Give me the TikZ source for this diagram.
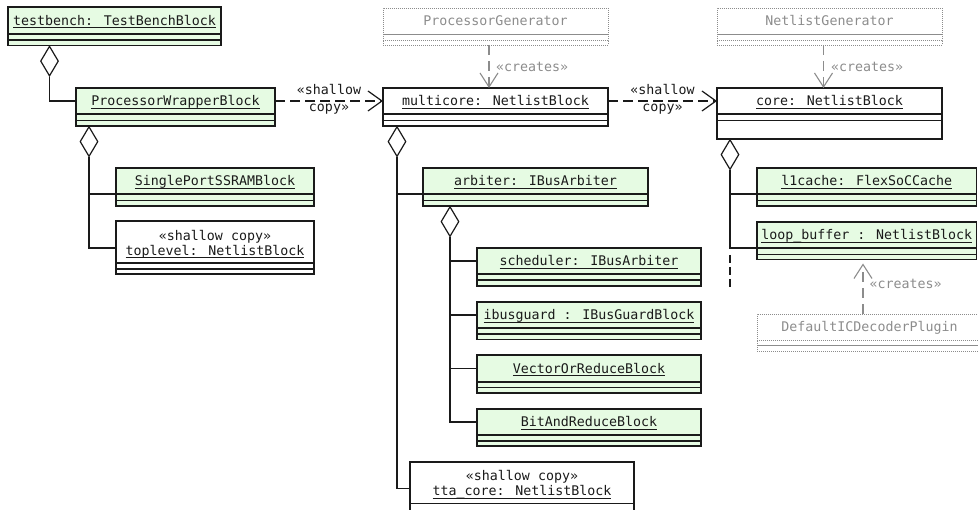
\documentclass[tikz,border=0pt]{standalone}
\usepackage{fontspec}
\usetikzlibrary{arrows.meta,shapes.geometric}
\newfontfamily\umlfont{DejaVu Sans Mono}
\definecolor{objfill}{HTML}{E6FBE3}
\definecolor{gengray}{HTML}{8C8C8C}
\definecolor{ink}{HTML}{1A1A1A}

% underlined object name with a fixed underline offset
\newcommand\uname[1]{\setbox0\hbox{#1}\rlap{\rule[-3pt]{\wd0}{0.9pt}}\box0}

% object box: name compartment (#1) plus two lower compartments (#1-a, #1-b)
% #2 left, #3 top, #4 right, #5 end of name part, #6 end of part a, #7 bottom, #8 style
\newcommand\objbox[8]{%
  \node[#8, anchor=north west, minimum width={(#4-#2)*1pt}, minimum height={(#5-#3)*1pt}] (#1) at (#2,#3) {};
  \node[#8, anchor=north west, minimum width={(#4-#2)*1pt}, minimum height={(#6-#5)*1pt}] (#1-a) at (#2,#5) {};
  \node[#8, anchor=north west, minimum width={(#4-#2)*1pt}, minimum height={(#7-#6)*1pt}] (#1-b) at (#2,#6) {};
}

\tikzset{
  part/.style={draw=ink, line width=1.2pt, rectangle, inner sep=0pt, outer sep=0pt},
  objgreen/.style={part, fill=objfill},
  objwhite/.style={part, fill=white},
  genpart/.style={draw=gengray, line width=0.9pt, dash pattern=on 0.8pt off 1.2pt, rectangle, inner sep=0pt, outer sep=0pt},
  nametext/.style={font=\umlfont\fontsize{13.3}{16}\selectfont, text=ink, inner sep=0pt, text height=9.2pt, text depth=0pt},
  gentext/.style={nametext, text=gengray},
  tagtext/.style={font=\umlfont\fontsize{13.3}{16}\selectfont, text=ink, inner sep=0pt},
  conn/.style={draw=ink, line width=1.2pt},
  agg/.style={diamond, draw=ink, line width=1.2pt, fill=white, minimum width=18pt, minimum height=30pt, inner sep=0pt, anchor=north},
  dep/.style={conn, dash pattern=on 10pt off 5pt, -{Straight Barb[length=14pt, width=20pt]}},
  creates/.style={draw=gengray, line width=1.1pt, dash pattern=on 10pt off 6pt, -{Straight Barb[length=14pt, width=18pt]}},
}

\begin{document}
\begin{tikzpicture}[x=1pt, y=-1pt]
\useasboundingbox (0,0) rectangle (978,510);
\clip (0,0) rectangle (978,510);

% generator boxes
\objbox{pg}{383}{8}{608}{34}{40}{45}{genpart}
\objbox{ng}{717}{8}{942}{34}{40}{45}{genpart}
\objbox{dic}{757}{314}{982}{340}{345}{351}{genpart}
\node[gentext] (pg-t) at (pg.center) {ProcessorGenerator};
\node[gentext] (ng-t) at (ng.center) {NetlistGenerator};
\node[gentext] (dic-t) at (dic.center) {DefaultICDecoderPlugin};

% object boxes
\objbox{tb}{8}{7}{221}{34}{40}{45.5}{objgreen}
\objbox{pw}{76}{88}{275}{114}{120.5}{126}{objgreen}
\objbox{sp}{116}{168}{314}{194}{200.5}{206}{objgreen}
\objbox{tl}{116}{221}{314}{263}{269}{274}{objwhite}
\objbox{mc}{383}{88}{608}{114}{120.5}{126}{objwhite}
\objbox{core}{717}{88}{942}{114}{120.5}{139}{objwhite}
\objbox{arb}{423}{168}{648}{194}{200.5}{206}{objgreen}
\objbox{sch}{477}{248}{701}{274}{280}{286}{objgreen}
\objbox{ibg}{477}{302}{701}{328}{334}{339.5}{objgreen}
\objbox{vor}{477}{355}{701}{382}{387.5}{393}{objgreen}
\objbox{bar}{477}{409}{701}{435}{441}{446}{objgreen}
\objbox{tta}{410}{462}{634}{503.5}{513}{525}{objwhite}
\objbox{l1}{757}{168}{976.5}{194}{200.5}{206}{objgreen}
\objbox{lb}{757}{222}{976.5}{248}{254.5}{259.5}{objgreen}

\node[nametext] (tb-t) at (tb.center) {\uname{testbench: TestBenchBlock}};
\node[nametext] (pw-t) at (pw.center) {\uname{ProcessorWrapperBlock}};
\node[nametext] (sp-t) at (sp.center) {\uname{SinglePortSSRAMBlock}};
\node[nametext] (tl-s) at ([yshift=6pt]tl.center) {«shallow copy»};
\node[nametext] (tl-t) at ([yshift=-8.5pt]tl.center) {\uname{toplevel: NetlistBlock}};
\node[nametext] (mc-t) at (mc.center) {\uname{multicore: NetlistBlock}};
\node[nametext] (core-t) at (core.center) {\uname{core: NetlistBlock}};
\node[nametext] (arb-t) at (arb.center) {\uname{arbiter: IBusArbiter}};
\node[nametext] (sch-t) at (sch.center) {\uname{scheduler: IBusArbiter}};
\node[nametext] (ibg-t) at (ibg.center) {\uname{ibusguard : IBusGuardBlock}};
\node[nametext] (vor-t) at (vor.center) {\uname{VectorOrReduceBlock}};
\node[nametext] (bar-t) at (bar.center) {\uname{BitAndReduceBlock}};
\node[nametext] (tta-s) at ([yshift=6.5pt]tta.center) {«shallow copy»};
\node[nametext] (tta-t) at ([yshift=-8.3pt]tta.center) {\uname{tta\_core: NetlistBlock}};
\node[nametext] (l1-t) at (l1.center) {\uname{l1cache: FlexSoCCache}};
\node[nametext] (lb-t) at (lb.center) {\uname{loop\_buffer : NetlistBlock}};

% aggregation diamonds
\node[agg] (d-tb) at (49.5,45.5) {};
\node[agg] (d-pw) at (89,126) {};
\node[agg] (d-mc) at (397,126) {};
\node[agg] (d-arb) at (450,206) {};
\node[agg] (d-core) at (730,139) {};

% containment tree
\draw[conn] (d-tb.south) |- (pw.west);
\draw[conn] (d-pw.south) |- (sp.south west);
\draw[conn] (d-pw.south) |- ([yshift=-6pt]tl.west);
\draw[conn] (d-mc.south) |- (arb.south west);
\draw[conn] (d-mc.south) |- ([yshift=-5.5pt]tta.west);
\draw[conn] (d-arb.south) |- (sch.west);
\draw[conn] (d-arb.south) |- (ibg.west);
\draw[conn] (d-arb.south) |- (vor.west);
\draw[conn] (d-arb.south) |- (bar.west);
\draw[conn] (d-core.south) |- (l1.south west);
\draw[conn] (d-core.south) |- (lb.south west);
\coordinate (core-dash) at (730,255);
\coordinate (core-tail) at (730,288);
\draw[conn, dash pattern=on 8pt off 4pt] (core-dash) -- (core-tail);

% shallow copy dependencies
\draw[dep] (pw.east) -- (mc.west)
  node[midway, tagtext, anchor=base, yshift=6pt] (sc1-a) {«shallow}
  node[midway, tagtext, anchor=base, yshift=-10.5pt] (sc1-b) {copy»};
\draw[dep] (mc.east) -- (core.west)
  node[midway, tagtext, anchor=base, yshift=6pt] (sc2-a) {«shallow}
  node[midway, tagtext, anchor=base, yshift=-10.5pt] (sc2-b) {copy»};

% creation dependencies
\draw[creates] ([xshift=-6.5pt]pg-b.south) -- ([xshift=-6.5pt]mc.north)
  node[midway, tagtext, text=gengray, anchor=base west, xshift=6.5pt, yshift=-5pt] (cr1) {«creates»};
\draw[creates] ([xshift=-6pt]ng-b.south) -- ([xshift=-6pt]core.north)
  node[midway, tagtext, text=gengray, anchor=base west, xshift=7pt, yshift=-5pt] (cr2) {«creates»};
\coordinate (dic-out) at ([xshift=-6.5pt]dic.north);
\draw[creates, shorten >=4pt] (dic-out) -- (dic-out |- lb-b.south)
  node[midway, tagtext, text=gengray, anchor=base west, xshift=6pt, yshift=-2pt] (cr3) {«creates»};
\end{tikzpicture}
\end{document}
